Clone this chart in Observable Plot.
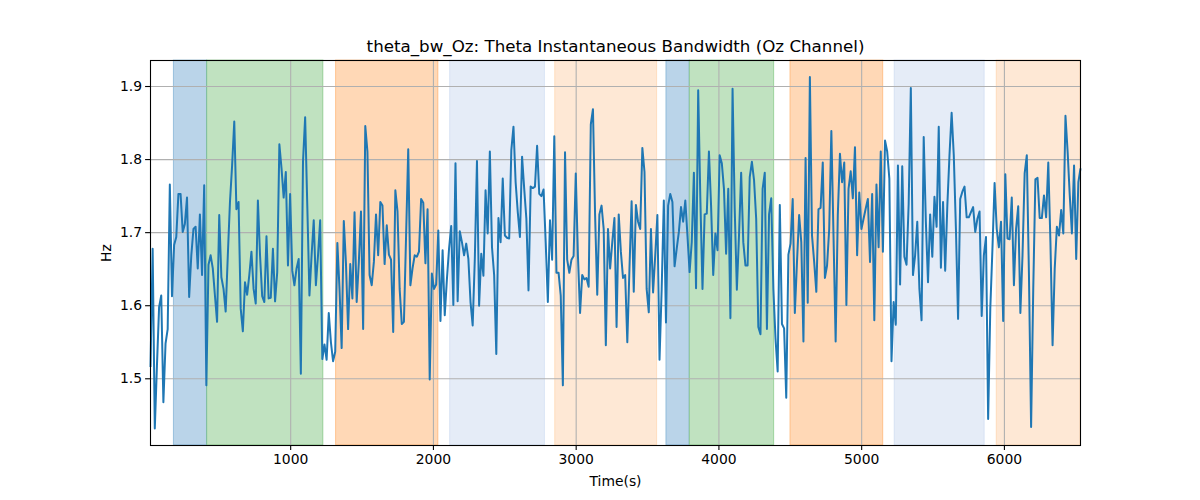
<!DOCTYPE html>
<html>
<head>
<meta charset="utf-8">
<script src="https://cdn.jsdelivr.net/npm/d3@7"></script>
<script src="https://cdn.jsdelivr.net/npm/@observablehq/plot@0.6"></script>
<style>
  html, body { margin: 0; padding: 0; background: #fff; }
  #chart { width: 1200px; height: 500px; }
</style>
</head>
<body>
<div id="chart"></div>
<script>
// ---- data ----
const titleText = "theta_bw_Oz: Theta Instantaneous Bandwidth (Oz Channel)";
const xLabel = "Time(s)";
const yLabel = "Hz";
const T0 = 18;
const T_END = 6533;
const xTicks = [1000, 2000, 3000, 4000, 5000, 6000];
const yTicks = [1.5, 1.6, 1.7, 1.8, 1.9];
const yDomain = [1.4087, 1.9356];

const bandwidth = [
  // part 1
  1.516, 1.678, 1.432, 1.518, 1.598, 1.614, 1.468, 1.548, 1.568, 1.766,
  1.613, 1.683, 1.694, 1.753, 1.753, 1.701, 1.712, 1.748, 1.612, 1.669,
  1.705, 1.708, 1.651, 1.725, 1.642, 1.765, 1.491, 1.656, 1.669, 1.651,
  1.614, 1.578, 1.724, 1.639, 1.623, 1.592, 1.669, 1.742, 1.792, 1.852,
  1.732, 1.742, 1.596, 1.565, 1.632, 1.615, 1.642, 1.674, 1.623, 1.603,
  1.744, 1.669, 1.613, 1.605, 1.695, 1.610, 1.611, 1.678, 1.606, 1.646,
  1.821, 1.788, 1.748, 1.783, 1.655, 1.753, 1.648, 1.628, 1.651, 1.664,
  // part 2
  1.507, 1.797, 1.858, 1.737, 1.614, 1.669, 1.717, 1.628, 1.669, 1.717,
  1.527, 1.547, 1.526, 1.590, 1.550, 1.524, 1.537, 1.686, 1.623, 1.542,
  1.716, 1.658, 1.568, 1.657, 1.610, 1.728, 1.605, 1.660, 1.729, 1.568,
  1.846, 1.811, 1.642, 1.628, 1.660, 1.725, 1.669, 1.742, 1.737, 1.657,
  1.710, 1.670, 1.663, 1.564, 1.758, 1.729, 1.623, 1.575, 1.578, 1.696,
  1.814, 1.628, 1.651, 1.669, 1.667, 1.674, 1.746, 1.741, 1.658, 1.732,
  1.499, 1.644, 1.623, 1.629, 1.703, 1.579, 1.676, 1.587, 1.636, 1.678,
  1.709,
  // part 3
  1.601, 1.795, 1.606, 1.702, 1.687, 1.669, 1.685, 1.664, 1.605, 1.573,
  1.664, 1.798, 1.600, 1.671, 1.641, 1.758, 1.699, 1.811, 1.680, 1.642,
  1.534, 1.720, 1.687, 1.774, 1.696, 1.693, 1.692, 1.813, 1.845, 1.769,
  1.728, 1.694, 1.804, 1.760, 1.719, 1.621, 1.763, 1.761, 1.763, 1.819,
  1.753, 1.750, 1.759, 1.687, 1.605, 1.717, 1.663, 1.832, 1.645, 1.645,
  1.614, 1.491, 1.810, 1.663, 1.645, 1.663, 1.668, 1.781, 1.669, 1.590,
  1.642, 1.636, 1.638, 1.626, 1.848, 1.869, 1.724, 1.615, 1.725, 1.737,
  // part 4
  1.705, 1.546, 1.705, 1.651, 1.687, 1.720, 1.571, 1.725, 1.674, 1.638,
  1.642, 1.550, 1.651, 1.743, 1.619, 1.738, 1.715, 1.705, 1.816, 1.783,
  1.623, 1.591, 1.705, 1.618, 1.669, 1.724, 1.526, 1.623, 1.744, 1.577,
  1.737, 1.753, 1.742, 1.654, 1.678, 1.701, 1.735, 1.715, 1.744, 1.696,
  1.646, 1.687, 1.782, 1.624, 1.895, 1.747, 1.623, 1.725, 1.726, 1.811,
  1.737, 1.642, 1.699, 1.676, 1.806, 1.795, 1.760, 1.671, 1.760, 1.583,
  1.897, 1.733, 1.622, 1.696, 1.782, 1.687, 1.655, 1.655, 1.776, 1.797,
  1.772,
  // part 5
  1.719, 1.571, 1.561, 1.760, 1.782, 1.568, 1.725, 1.747, 1.623, 1.555,
  1.510, 1.738, 1.575, 1.569, 1.474, 1.670, 1.685, 1.746, 1.590, 1.660,
  1.724, 1.687, 1.551, 1.802, 1.604, 1.913, 1.696, 1.660, 1.619, 1.732,
  1.734, 1.796, 1.638, 1.655, 1.705, 1.839, 1.696, 1.551, 1.724, 1.808,
  1.769, 1.796, 1.601, 1.760, 1.784, 1.747, 1.817, 1.669, 1.755, 1.705,
  1.719, 1.733, 1.746, 1.660, 1.753, 1.580, 1.766, 1.680, 1.811, 1.674,
  1.826, 1.811, 1.774, 1.524, 1.605, 1.574, 1.792, 1.629, 1.791, 1.667,
  1.656,
  // part 6
  1.740, 1.898, 1.642, 1.669, 1.715, 1.623, 1.580, 1.831, 1.715, 1.632,
  1.725, 1.667, 1.749, 1.708, 1.845, 1.652, 1.742, 1.648, 1.737, 1.806,
  1.864, 1.806, 1.705, 1.582, 1.746, 1.756, 1.763, 1.721, 1.721, 1.728,
  1.735, 1.701, 1.719, 1.729, 1.586, 1.669, 1.694, 1.445, 1.596, 1.678,
  1.768, 1.705, 1.680, 1.715, 1.579, 1.780, 1.692, 1.691, 1.748, 1.628,
  1.705, 1.736, 1.590, 1.669, 1.781, 1.806, 1.642, 1.434, 1.623, 1.773,
  1.775, 1.720, 1.720, 1.751, 1.721, 1.796, 1.687, 1.546, 1.651, 1.708,
  1.696, 1.731, 1.699, 1.860, 1.811, 1.751, 1.699, 1.792, 1.664, 1.769,
  1.788
];

const spanStart = [182, 415, 1318, 2117, 2853, 3632, 3796, 4501, 5231, 5946];
const spanEnd   = [415, 1229, 2035, 2781, 3567, 3796, 4387, 5151, 5862, 6533];
const spanKind  = ["blue", "green", "orange", "lightblue", "lightorange",
                   "blue", "green", "orange", "lightblue", "lightorange"];

// ---- styles ----
const kindFill = {
  blue: "#bad4e9", green: "#c0e2c0", orange: "#ffd8b6",
  lightblue: "#e5ecf7", lightorange: "#fee8d5"
};
const kindEdge = {
  blue: "#1f77b4", green: "#2ca02c", orange: "#ff7f0e",
  lightblue: "#aec7e8", lightorange: "#ffbb78"
};

const DT = (T_END - T0) / (bandwidth.length - 1);
const series = bandwidth.map((v, i) => ({t: T0 + i * DT, v}));
const spans = spanStart.map((s, i) => ({x1: s, x2: spanEnd[i], kind: spanKind[i]}));

const chart = Plot.plot({
  width: 1200,
  height: 500,
  marginLeft: 150,
  marginRight: 120,
  marginTop: 60,
  marginBottom: 55,
  style: {fontFamily: "DejaVu Sans", fontSize: "13.9px", background: "#fff", color: "#000"},
  x: {domain: [T0, T_END]},
  y: {domain: yDomain},
  marks: [
    Plot.rect(spans, {
      x1: "x1", x2: "x2", y1: yDomain[0], y2: yDomain[1],
      fill: d => kindFill[d.kind],
      stroke: d => kindEdge[d.kind], strokeOpacity: 0.35, strokeWidth: 1
    }),
    Plot.gridX({ticks: xTicks, stroke: "#b0b0b0", strokeOpacity: 1, strokeWidth: 1.1}),
    Plot.gridY({ticks: yTicks, stroke: "#b0b0b0", strokeOpacity: 1, strokeWidth: 1.1}),
    Plot.line(series, {x: "t", y: "v", stroke: "#1f77b4", strokeWidth: 2, strokeLinejoin: "round", strokeLinecap: "butt"}),
    Plot.axisX({ticks: xTicks, tickSize: 4.9, tickPadding: 3.5, fontSize: 13.9, label: null, tickFormat: d3.format("d"), strokeWidth: 1.1}),
    Plot.axisY({ticks: yTicks, tickSize: 4.9, tickPadding: 3.5, fontSize: 13.9, label: null, tickFormat: d3.format(".1f"), strokeWidth: 1.1}),
    Plot.frame({stroke: "#000", strokeWidth: 1.1}),
    Plot.text([titleText], {frameAnchor: "top", lineAnchor: "middle", dy: -14, fontSize: 16.7, fill: "#000"}),
    Plot.text([xLabel], {frameAnchor: "bottom", lineAnchor: "middle", dy: 36, fontSize: 13.9, fill: "#000"}),
    Plot.text([yLabel], {frameAnchor: "left", lineAnchor: "middle", textAnchor: "middle", dx: -44, rotate: -90, fontSize: 13.9, fill: "#000"})
  ]
});
document.getElementById("chart").appendChild(chart);
</script>
</body>
</html>
